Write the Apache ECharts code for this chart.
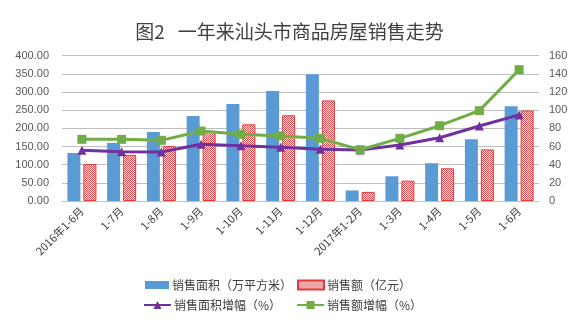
<!DOCTYPE html>
<html><head><meta charset="utf-8">
<script src="https://cdn.jsdelivr.net/npm/echarts@6/dist/echarts.min.js"></script>
<style>html,body{margin:0;padding:0;background:#fff}#c{width:579px;height:324px}</style>
</head><body><div id="c"></div>
<script>
var categories = ['2016年1-6月','1-7月','1-8月','1-9月','1-10月','1-11月','1-12月','2017年1-2月','1-3月','1-4月','1-5月','1-6月'];
var salesArea = [132, 160, 190, 234, 267, 303, 349, 29, 68, 104, 170, 261];
var salesAmount = [102, 127, 151, 192, 211, 236, 277, 25, 56, 90, 142, 249];
var areaGrowth = [55.8, 54.3, 54.0, 62.4, 60.9, 59.1, 57.1, 56.2, 61.7, 69.7, 82.6, 94.8];
var amountGrowth = [67.9, 67.9, 66.8, 77.0, 73.4, 71.6, 69.0, 56.5, 69.0, 82.9, 99.5, 144.6];
var leftTicks = [0, 400, 50];
var rightTicks = [0, 160, 20];

var cv = document.createElement('canvas');
cv.width = 2; cv.height = 2;
var cx = cv.getContext('2d');
cx.fillStyle = '#ffffff'; cx.fillRect(0,0,2,2);
cx.fillStyle = '#e8474c'; cx.fillRect(0,0,1,1); cx.fillRect(1,1,1,1);

var font = '"Noto Sans CJK SC", "Liberation Sans", sans-serif';
var chart = echarts.init(document.getElementById('c'));
var legendBase = function(name, left, top, icon, w, h) {
  return {data:[name], left:left, top:top, icon:icon, itemWidth:w, itemHeight:h, itemGap:0,
    textStyle:{fontSize:12, color:'#404040', fontFamily:font, padding:[0,0,0,-2]}, padding:0};
};
chart.setOption({
  animation:false,
  title:{text:'图2   一年来汕头市商品房屋销售走势', left:'center', top:17,
    textStyle:{fontSize:19, fontWeight:'normal', color:'#404040', fontFamily:font}},
  legend:[
    legendBase('销售面积（万平方米）', 145, 279, 'rect', 24, 8),
    legendBase('销售额（亿元）', 297, 279, 'rect', 26, 9),
    legendBase('销售面积增幅（%）', 143, 299, null, 27, 10),
    legendBase('销售额增幅（%）', 296, 299, null, 27, 10)
  ],
  grid:{left:62, right:40, top:55.7, bottom:123, containLabel:false},
  xAxis:{type:'category', data:categories,
    axisLine:{lineStyle:{color:'#bfbfbf'}}, axisTick:{show:false},
    axisLabel:{rotate:45, fontSize:11, color:'#404040', fontFamily:font, margin:8, interval:0}},
  yAxis:[
    {type:'value', min:leftTicks[0], max:leftTicks[1], interval:leftTicks[2],
      axisLabel:{formatter:function(v){return v.toFixed(2);}, fontSize:11, color:'#595959', fontFamily:'"Liberation Sans", sans-serif', margin:13},
      splitLine:{lineStyle:{color:'#bdbdbd'}}, axisLine:{show:false}, axisTick:{show:false}},
    {type:'value', min:rightTicks[0], max:rightTicks[1], interval:rightTicks[2],
      axisLabel:{fontSize:11, color:'#595959', fontFamily:'"Liberation Sans", sans-serif', margin:10},
      splitLine:{show:false}, axisLine:{show:false}, axisTick:{show:false}}
  ],
  series:[
    {name:'销售面积（万平方米）', type:'bar', data:salesArea, barWidth:13, barGap:'23%',
      itemStyle:{color:'#5b9bd5'}},
    {name:'销售额（亿元）', type:'bar', data:salesAmount, barWidth:13,
      itemStyle:{color:{image:cv, repeat:'repeat'}, borderColor:'#e03a3e', borderWidth:1}},
    {name:'销售面积增幅（%）', type:'line', yAxisIndex:1, data:areaGrowth,
      symbol:'triangle', symbolSize:9, lineStyle:{color:'#7030a0', width:3},
      itemStyle:{color:'#7030a0'}},
    {name:'销售额增幅（%）', type:'line', yAxisIndex:1, data:amountGrowth,
      symbol:'rect', symbolSize:9, lineStyle:{color:'#70ad47', width:3},
      itemStyle:{color:'#70ad47'}}
  ]
});
</script></body></html>
